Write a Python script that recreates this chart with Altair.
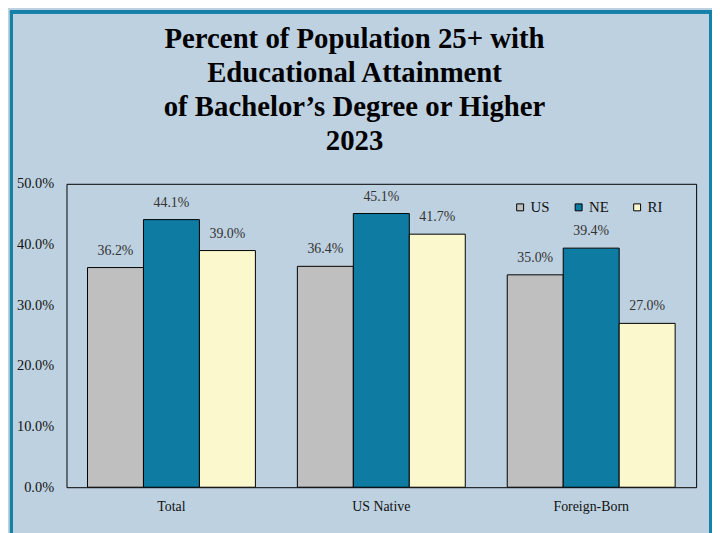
import altair as alt
import pandas as pd

categories = ["Total", "US Native", "Foreign-Born"]
series = ["US", "NE", "RI"]
us_values = [36.2, 36.4, 35.0]
ne_values = [44.1, 45.1, 39.4]
ri_values = [39.0, 41.7, 27.0]
colors = ["#BFBFBF", "#0E7BA3", "#FBF8CE"]
title_lines = ["Percent of Population 25+ with", "Educational Attainment",
               "of Bachelor\u2019s Degree or Higher", "2023"]

rows = []
for s, vals in zip(series, [us_values, ne_values, ri_values]):
    for c, v in zip(categories, vals):
        rows.append({"cat": c, "series": s, "value": v / 100.0,
                     "label": f"{v:.1f}%"})
df = pd.DataFrame(rows)

W, H = 635, 306
PL, PT, PR, PB = 59, 175, 16, 60
BG = "#BED1E0"
FRAME = "#1580A8"
SERIF = "Liberation Serif"

xenc = alt.X("cat:N", sort=categories, title=None,
             scale=alt.Scale(paddingInner=0.2, paddingOuter=0.1),
             axis=alt.Axis(labelAngle=0, ticks=False, domain=False,
                           labelPadding=12, labelFontSize=14,
                           labelFont=SERIF, labelColor="#111"))
yenc = alt.Y("value:Q", title=None,
             scale=alt.Scale(domain=[0, 0.5]),
             axis=alt.Axis(format=".1%", values=[0, 0.1, 0.2, 0.3, 0.4, 0.5],
                           ticks=False, domain=False, grid=False,
                           labelPadding=13, labelFontSize=14.5,
                           labelFont=SERIF, labelColor="#111"))
xoff = alt.XOffset("series:N", sort=series)

base = alt.Chart(df)
bars = base.mark_bar(stroke="black", strokeWidth=1).encode(
    x=xenc, y=yenc, xOffset=xoff,
    color=alt.Color("series:N", sort=series,
                    scale=alt.Scale(domain=series, range=colors),
                    legend=alt.Legend(title=None, orient="none",
                                      legendX=450, legendY=16,
                                      direction="horizontal", columns=3,
                                      gridAlign="all", columnPadding=21,
                                      symbolType="square", symbolSize=49,
                                      symbolStrokeColor="black",
                                      symbolStrokeWidth=1, labelOffset=3,
                                      labelFont=SERIF, labelFontSize=15,
                                      labelColor="#111")),
)
text = base.mark_text(dy=-10, font=SERIF, fontSize=14, color="#333",
                      baseline="bottom").encode(
    x=xenc, y=yenc, xOffset=xoff, text="label:N")

left = alt.Chart(df).mark_rule(color=FRAME, strokeWidth=3).encode(
    x=alt.value(-PL + 3.5), y=alt.value(-PT), y2=alt.value(H + PB))
right = alt.Chart(df).mark_rule(color=FRAME, strokeWidth=3).encode(
    x=alt.value(W + PR - 1.5), y=alt.value(-PT), y2=alt.value(H + PB))
top = alt.Chart(df).mark_rule(color=FRAME, strokeWidth=3).encode(
    x=alt.value(-PL + 2), x2=alt.value(W + PR), y=alt.value(-PT + 1.5))

chart = alt.layer(bars, text, left, right, top).properties(
    width=W, height=H,
    autosize=alt.AutoSizeParams(type="none"),
    padding={"left": PL, "top": PT, "right": PR, "bottom": PB},
    background=BG,
    title=alt.TitleParams(title_lines, font=SERIF, fontSize=29,
                          fontWeight="bold", color="#000", lineHeight=34,
                          anchor="middle", frame="group", dx=-27,
                          offset=-148),
).configure_view(stroke="black", strokeWidth=1)

chart.save("out.html", embed_options={"renderer": "svg", "actions": False})
